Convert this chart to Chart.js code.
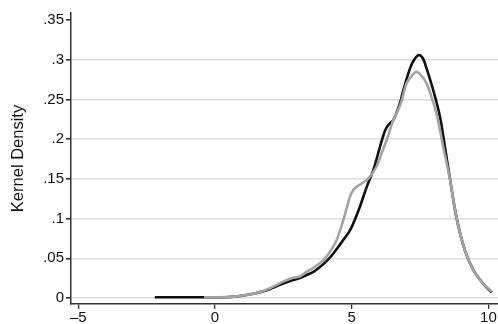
<!DOCTYPE html>
<html>
<head>
<meta charset="utf-8">
<script src="https://cdn.jsdelivr.net/npm/chart.js@4"></script>
<style>
  html, body { margin: 0; padding: 0; background: #ffffff; }
  #wrap { width: 498px; height: 324px; }
</style>
</head>
<body>
<div id="wrap"><canvas id="kd"></canvas></div>
<script>
// tick values and labels
var yTicks = [0, 0.05, 0.1, 0.15, 0.2, 0.25, 0.3, 0.35];
var yTickLabels = ['0', '.05', '.1', '.15', '.2', '.25', '.3', '.35'];
var xTicks = [-5, 0, 5, 10];
var xTickLabels = ['\u20135', '0', '5', '10'];

// black density curve
var blackX = [-2.2, -1.5, -0.8, -0.2, 0.4, 0.8, 1.2, 1.6, 2.0, 2.4, 2.8, 3.1, 3.35, 3.6, 3.84, 4.1, 4.33, 4.5, 4.69, 4.9,
              5.06, 5.3, 5.55, 5.79, 6.03, 6.22, 6.34, 6.52, 6.76, 6.89, 7.13, 7.3, 7.46, 7.6, 7.74, 7.98, 8.23, 8.41, 8.59, 8.84,
              9.14, 9.45, 9.81, 10.12];
var blackY = [0.001, 0.001, 0.001, 0.001, 0.001, 0.002, 0.004, 0.007, 0.011, 0.017, 0.022, 0.025, 0.029, 0.033, 0.039, 0.047, 0.056, 0.064, 0.073, 0.083,
              0.094, 0.115, 0.140, 0.161, 0.190, 0.211, 0.218, 0.224, 0.245, 0.262, 0.289, 0.301, 0.306, 0.302, 0.289, 0.262, 0.228, 0.190, 0.151, 0.100,
              0.060, 0.035, 0.018, 0.007];

// gray density curve
var grayX = [-0.4, 0.2, 0.8, 1.2, 1.6, 2.0, 2.4, 2.8, 3.1, 3.35, 3.6, 3.84, 4.0, 4.2, 4.45, 4.69, 4.94, 5.06, 5.18, 5.4,
             5.6, 5.9, 6.1, 6.28, 6.52, 6.7, 6.83, 7.0, 7.2, 7.37, 7.55, 7.74, 7.9, 8.1, 8.35, 8.59, 8.84, 9.14, 9.45, 9.81,
             10.12];
var grayY = [0.001, 0.001, 0.002, 0.004, 0.007, 0.012, 0.019, 0.025, 0.027, 0.033, 0.038, 0.044, 0.049, 0.058, 0.073, 0.098, 0.128, 0.136, 0.140, 0.145,
             0.150, 0.165, 0.183, 0.199, 0.224, 0.237, 0.249, 0.270, 0.280, 0.285, 0.280, 0.270, 0.255, 0.232, 0.190, 0.150, 0.100, 0.060, 0.035, 0.018,
             0.008];

function pts(xs, ys) {
    return xs.map(function (x, i) { return { x: x, y: ys[i] }; });
}

var FONT = 'Liberation Sans, Arial, Helvetica, sans-serif';
var AXIS = '#333333';

new Chart(document.getElementById('kd'), {
    type: 'line',
    data: {
        datasets: [
            {
                label: 'gray',
                data: pts(grayX, grayY),
                borderColor: '#a3a3a3',
                borderWidth: 2.6,
                pointRadius: 0,
                tension: 0.35,
                fill: false
            },
            {
                label: 'black',
                data: pts(blackX, blackY),
                borderColor: '#111111',
                borderWidth: 2.6,
                pointRadius: 0,
                tension: 0.35,
                fill: false
            }
        ]
    },
    options: {
        responsive: true,
        maintainAspectRatio: false,
        animation: false,
        layout: { padding: { top: 13, right: 0, left: 0, bottom: 0 } },
        plugins: { legend: { display: false }, tooltip: { enabled: false } },
        scales: {
            x: {
                type: 'linear',
                min: -5.265,
                max: 10.35,
                afterBuildTicks: function (axis) {
                    axis.ticks = xTicks.map(function (v) { return { value: v }; });
                },
                afterFit: function (axis) { axis.height = 20; },
                border: { color: AXIS, width: 1.5 },
                grid: {
                    drawOnChartArea: false,
                    color: AXIS,
                    tickColor: AXIS,
                    tickLength: 5,
                    lineWidth: 1.3
                },
                ticks: {
                    color: '#111111',
                    padding: 0,
                    maxRotation: 0,
                    font: { family: FONT, size: 15 },
                    callback: function (v) {
                        var i = xTicks.indexOf(v);
                        return i >= 0 ? xTickLabels[i] : '';
                    }
                }
            },
            y: {
                min: -0.00756,
                max: 0.359,
                afterBuildTicks: function (axis) {
                    axis.ticks = yTicks.map(function (v) { return { value: v }; });
                },
                afterFit: function (axis) { axis.width = 71; },
                border: { color: AXIS, width: 1.5 },
                grid: {
                    color: function (ctx) {
                        return ctx.tick && ctx.tick.value >= 0.35 ? 'rgba(0,0,0,0)' : '#dddddd';
                    },
                    tickColor: AXIS,
                    tickLength: 5,
                    lineWidth: 1.6
                },
                ticks: {
                    color: '#111111',
                    padding: 2,
                    font: { family: FONT, size: 15 },
                    callback: function (v) {
                        var i = yTicks.indexOf(v);
                        return i >= 0 ? yTickLabels[i] : '';
                    }
                },
                title: {
                    display: true,
                    text: 'Kernel Density',
                    color: '#111111',
                    padding: { top: 9, bottom: 0 },
                    font: { family: FONT, size: 16.5 }
                }
            }
        }
    }
});
</script>
</body>
</html>
